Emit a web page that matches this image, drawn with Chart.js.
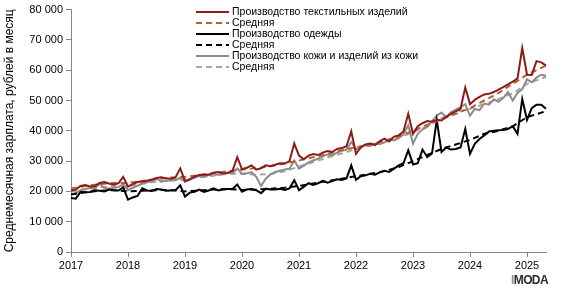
<!DOCTYPE html>
<html>
<head>
<meta charset="utf-8">
<script src="https://cdn.jsdelivr.net/npm/chart.js@4/dist/chart.umd.min.js"></script>
<style>
  html, body { margin: 0; padding: 0; background: #fff; }
  #wrap { position: relative; width: 561px; height: 290px; }
  #logo { position: absolute; left: 511px; top: 273px; font: bold 12px "Liberation Sans", Arial, sans-serif; letter-spacing: -0.6px; color: #2b2b2b; }
  #logo span { color: #a88888; }
</style>
</head>
<body>
<div id="wrap">
  <canvas id="c" width="561" height="290"></canvas>
  <div id="logo"><span>I</span>MODA</div>
</div>
<script>
// ---- categories ----
const years = [2017, 2018, 2019, 2020, 2021, 2022, 2023, 2024, 2025];
const monthsInLastYear = 5;

// ---- series: monthly values, Jan 2017 .. May 2025 ----
const textile = [
  20300, 20600, 21800, 22100, 21600, 21700, 22800, 23100, 22600, 22200, 22700, 24800,
  21600, 22400, 23100, 23300, 23500, 23900, 24400, 24700, 24300, 24200, 24600, 27600,
  23400, 24000, 24900, 25400, 25600, 25500, 26200, 26400, 25900, 26100, 26800, 31300,
  27300, 27800, 28600, 27200, 27600, 28600, 28300, 28800, 29300, 29200, 30000, 35800,
  31800, 30600, 31800, 32300, 32000, 32800, 33300, 33000, 34000, 34300, 34900, 39800,
  32400, 34500, 35500, 35800, 35300, 36600, 37400, 36500, 38100, 38500, 39800, 45600,
  39000, 41500, 42500, 43200, 43000, 43600, 43400, 44600, 45600, 46400, 47200, 54300,
  48800, 50200, 51200, 52000, 52200, 52800, 53600, 54400, 55300, 56200, 57300, 67300,
  58500, 58400, 63000, 62600, 61500
];
const clothing = [
  17800, 17600, 19800, 19700, 19800, 20400, 20200, 20000, 20600, 20400, 20300, 21300,
  17300, 18000, 18500, 21000, 20300, 20100, 20800, 20600, 20200, 20300, 20400, 22000,
  18300, 19600, 19900, 20600, 19800, 20300, 21000, 20300, 20600, 20800, 20800, 22300,
  19900, 20600, 20800, 20400, 19400, 20900, 20600, 20600, 20900, 20500, 21000, 23700,
  20400, 21500, 22700, 22100, 22700, 23500, 22900, 23400, 24000, 23800, 24300, 28600,
  23800, 25000, 25300, 25800, 25500, 26300, 26800, 26400, 27500, 28600, 29300, 33600,
  28900, 29300, 33800, 31300, 32500, 43600, 33000, 34500, 33800, 34000, 34500, 40600,
  32400, 35700, 37300, 38500, 39800, 40000, 40200, 40300, 40600, 41500, 39000, 50500,
  43600, 47500, 48600, 48600, 47300
];
const leather = [
  19000, 19400, 20400, 20800, 21100, 21000, 22500, 21200, 20900, 21200, 21400, 22400,
  20400, 21200, 21800, 22600, 23000, 23300, 24300, 23200, 23500, 23600, 23700, 24500,
  23200, 23800, 24600, 25100, 24800, 25400, 25900, 25400, 25800, 26200, 26000, 27600,
  25800, 26000, 26300, 24800, 21800, 24200, 25600, 26400, 26800, 27200, 27500, 30200,
  27500, 28500, 29600, 30200, 30800, 31600, 32200, 31900, 32800, 33400, 33800, 36300,
  34000, 34600, 35400, 35000, 35800, 35600, 36200, 37200, 36800, 37600, 38800, 41800,
  35800, 39000, 40500, 41300, 43200, 45000, 46000, 44500, 46200, 47000, 47800, 48800,
  45000, 47200, 46800, 49000, 48600, 50400, 49600, 50800, 52800, 50000, 52500, 53700,
  57000, 56000, 57600, 58500, 58200
];

// ---- averages ("Средняя"): values read at Jan/Apr/Jul/Oct of each year, last one at May 2025 ----
const textileAvg = [
  21000, 21800, 22400, 22800,  22800, 23400, 24000, 24600,  24800, 25400, 26000, 26700,
  27200, 27700, 28300, 29200,  30200, 31300, 32400, 33600,  34600, 35500, 36600, 38200,
  40000, 42000, 43800, 45600,  47500, 50000, 52500, 55500,  58500, 61500
];
const clothingAvg = [
  19000, 19700, 20200, 20400,  20000, 20200, 20400, 20500,  20000, 20300, 20600, 20800,
  20500, 20600, 20900, 21200,  21800, 22600, 23400, 24200,  25000, 25800, 26700, 28000,
  30000, 32000, 34000, 35500,  37000, 39000, 40000, 41500,  44500, 46500
];
const leatherAvg = [
  20000, 20700, 21300, 21700,  21800, 22500, 23200, 23700,  24000, 24600, 25200, 25800,
  25800, 25500, 25700, 26600,  28200, 29700, 31200, 32500,  34000, 35200, 36300, 37800,
  39500, 41700, 44200, 46200,  47300, 48800, 50500, 52300,  55500, 57800
];

// ---- tick settings ----
const yTicks = [0, 10000, 20000, 30000, 40000, 50000, 60000, 70000, 80000];

// build month labels
const labels = [];
years.forEach((y, i) => {
  const n = (i === years.length - 1) ? monthsInLastYear : 12;
  for (let m = 1; m <= n; m++) labels.push(y + '-' + String(m).padStart(2, '0'));
});
// place quarterly average readings on the monthly axis
function placeAvg(arr) {
  const out = new Array(labels.length).fill(null);
  for (let i = 0; i < arr.length - 1; i++) out[i * 3] = arr[i];
  out[labels.length - 1] = arr[arr.length - 1];
  return out;
}

const fmt = v => String(v).replace(/\B(?=(\d{3})+(?!\d))/g, ' ');
const FONT = '"Liberation Sans", Arial, sans-serif';

const legendPlugin = {
  id: 'boxLegend',
  afterDraw(chart) {
    const ctx = chart.ctx;
    const x0 = 196, x1 = 229, tx = 232, y0 = 12, dy = 11;
    ctx.save();
    ctx.font = '10.5px ' + FONT;
    ctx.textBaseline = 'middle';
    chart.data.datasets.forEach((ds, i) => {
      const y = y0 + i * dy;
      ctx.strokeStyle = ds.borderColor;
      ctx.lineWidth = 2;
      ctx.setLineDash(ds.borderDash || []);
      ctx.beginPath(); ctx.moveTo(x0, y); ctx.lineTo(x1, y); ctx.stroke();
      ctx.setLineDash([]);
      ctx.fillStyle = '#000';
      ctx.fillText(ds.label, tx, y);
    });
    ctx.restore();
  }
};

const common = { pointRadius: 0, borderWidth: 2, tension: 0, fill: false, spanGaps: true };

new Chart(document.getElementById('c'), {
  type: 'line',
  data: {
    labels: labels,
    datasets: [
      Object.assign({ label: 'Производство текстильных изделий', data: textile, borderColor: '#8e1a1a' }, common),
      Object.assign({ label: 'Средняя', data: placeAvg(textileAvg), borderColor: '#b4622a', borderDash: [6, 4] }, common),
      Object.assign({ label: 'Производство одежды', data: clothing, borderColor: '#000000' }, common),
      Object.assign({ label: 'Средняя', data: placeAvg(clothingAvg), borderColor: '#000000', borderDash: [6, 4] }, common),
      Object.assign({ label: 'Производство кожи и изделий из кожи', data: leather, borderColor: '#8c8c8c' }, common),
      Object.assign({ label: 'Средняя', data: placeAvg(leatherAvg), borderColor: '#a6a6a6', borderDash: [6, 4] }, common)
    ]
  },
  options: {
    responsive: false,
    animation: false,
    events: [],
    layout: { padding: { left: 0, right: 15, top: 1, bottom: 0 } },
    plugins: { legend: { display: false }, tooltip: { enabled: false } },
    scales: {
      x: {
        type: 'category',
        offset: false,
        border: { display: true, color: '#868686', width: 1 },
        grid: { drawOnChartArea: false, drawTicks: true, tickLength: 5, color: '#868686' },
        ticks: {
          autoSkip: false, maxRotation: 0, minRotation: 0,
          color: '#000', font: { family: FONT, size: 11 }, padding: 2,
          callback: function (val) {
            const l = this.getLabelForValue(val);
            return l.endsWith('-01') ? l.slice(0, 4) : null;
          }
        },
        afterFit(scale) { scale.height = 38; }
      },
      y: {
        min: 0, max: 80000,
        afterBuildTicks(scale) { scale.ticks = yTicks.map(v => ({ value: v })); },
        border: { display: true, color: '#868686', width: 1 },
        grid: { drawOnChartArea: false, drawTicks: true, tickLength: 5, color: '#868686' },
        ticks: { color: '#000', font: { family: FONT, size: 11 }, padding: 3, callback: v => fmt(v) },
        title: {
          display: true,
          text: 'Среднемесячная зарплата, рублей в месяц',
          color: '#000',
          font: { family: FONT, size: 12 },
          padding: { top: 2, bottom: 0 }
        },
        afterFit(scale) { scale.width = 71; }
      }
    }
  },
  plugins: [legendPlugin]
});
</script>
</body>
</html>
